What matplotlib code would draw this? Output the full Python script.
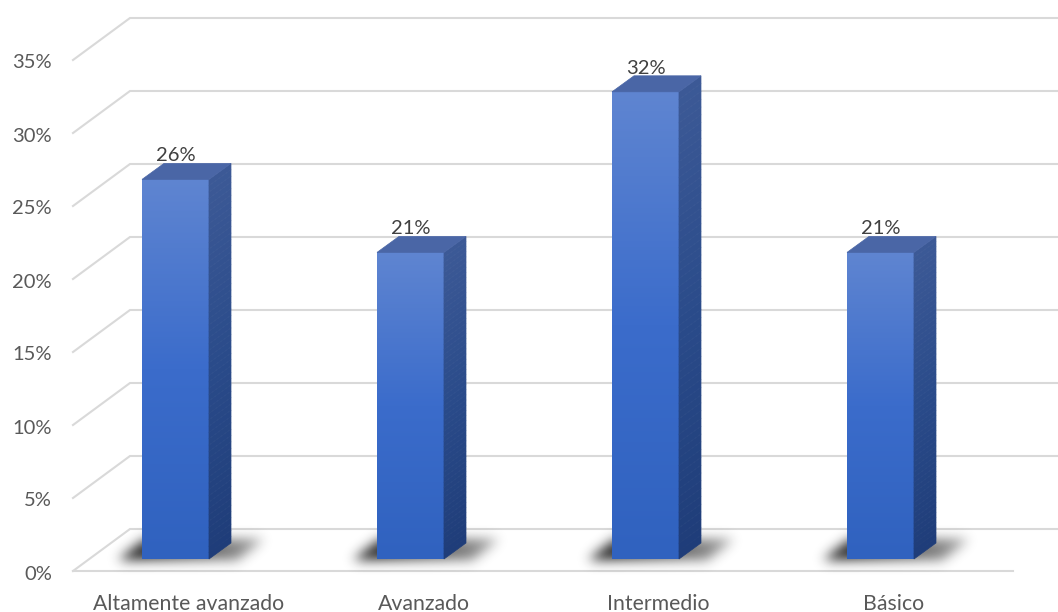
import numpy as np
import matplotlib
matplotlib.use("Agg")
import matplotlib.pyplot as plt
from matplotlib.patches import Polygon
from matplotlib.path import Path
from matplotlib.transforms import IdentityTransform
from matplotlib.colors import to_rgb

# ---- data -------------------------------------------------------------
categories = ["Altamente avanzado", "Avanzado", "Intermedio", "Básico"]
shares = [0.26, 0.21, 0.32, 0.21]
value_labels = ["26%", "21%", "32%", "21%"]
tick_values = [0.00, 0.05, 0.10, 0.15, 0.20, 0.25, 0.30, 0.35]
tick_labels = ["0%", "5%", "10%", "15%", "20%", "25%", "30%", "35%"]

# ---- figure / axes ----------------------------------------------------
W, H, DPI = 1058, 612, 100
plt.rcParams["font.family"] = ["Lato", "DejaVu Sans"]
fig = plt.figure(figsize=(W / DPI, H / DPI), dpi=DPI)
fig.patch.set_facecolor("white")
ax = fig.add_axes([73 / W, 41 / H, 940 / W, 511 / H])
ax.set_xlim(-0.5, len(categories) - 0.5)
ax.set_ylim(0, 0.35)
ax.set_autoscale_on(False)
ax.axis("off")

ID = IdentityTransform()
WALL = np.array([57.0, 42.0])    # depth of the floor / back wall (pixels)
FRONT = np.array([-15.0, 12.0])  # front plane of the bars
BACK = np.array([7.0, 28.0])     # back plane of the bars
BAR_W = 0.285

GRID = "#D9D9D9"
TXT = "#595959"


def pt(x, v, off=(0.0, 0.0)):
    """Data point -> display pixels, pushed back by an oblique depth offset."""
    return ax.transData.transform((x, v)) + np.asarray(off, dtype=float)


def ramp(c0, c1, c2, n):
    """Vertical colour ramp bottom -> middle -> top."""
    a, b, c = (np.array(to_rgb(k)) for k in (c0, c1, c2))
    t = np.linspace(0, 1, n)[:, None]
    lo = a + (b - a) * np.clip(t * 2, 0, 1)
    hi = b + (c - b) * np.clip(t * 2 - 1, 0, 1)
    return np.where(t < 0.5, lo, hi)


# ---- walls and gridlines ----------------------------------------------
x_lo, x_hi = ax.get_xlim()
for v in tick_values:
    f = pt(x_lo, v)
    b0 = pt(x_lo, v, WALL)
    b1 = pt(x_hi, v, WALL)
    ax.plot([f[0], b0[0], b1[0]], [f[1], b0[1], b1[1]], transform=ID,
            color=GRID, lw=1.5, clip_on=False, zorder=1,
            solid_joinstyle="miter")
f0, f1 = pt(x_lo, 0), pt(x_hi, 0)
ax.plot([f0[0], f1[0]], [f0[1], f1[1]], transform=ID, color=GRID, lw=1.5,
        clip_on=False, zorder=1)

for v, lab in zip(tick_values, tick_labels):
    p = pt(x_lo, v, (-21, -3))
    ax.text(p[0], p[1], lab, transform=ID, ha="right", va="center",
            fontsize=14.5, color=TXT)

for i, cat in enumerate(categories):
    p = pt(i, 0, (-2, -33))
    ax.text(p[0], p[1], cat, transform=ID, ha="center", va="center",
            fontsize=15.3, color=TXT)


# ---- soft floor shadow -------------------------------------------------
def floor_shadow(base, width_px):
    fl = base + np.array([-24.0, -1.0])
    fr = base + np.array([width_px + 28.0, -1.0])
    depth = np.array([27.0, 21.0])
    poly = np.array([fl, fr, fr + depth, fl + depth])
    m = 26
    x0, y0 = np.floor(poly.min(axis=0)) - m
    x1, y1 = np.ceil(poly.max(axis=0)) + m
    nx, ny = int(x1 - x0), int(y1 - y0)
    gx, gy = np.meshgrid(x0 + np.arange(nx) + 0.5, y0 + np.arange(ny) + 0.5)
    inside = Path(poly).contains_points(
        np.column_stack([gx.ravel(), gy.ravel()])).reshape(ny, nx)
    fade = np.clip(1.0 - (gx - fl[0]) / (fr[0] + depth[0] - fl[0]) * 0.6,
                   0.25, 1.0)
    mask = inside * fade
    sig = 6.0
    r = np.arange(-18, 19)
    k = np.exp(-r ** 2 / (2 * sig ** 2))
    k /= k.sum()
    mask = np.apply_along_axis(lambda row: np.convolve(row, k, "same"), 1, mask)
    mask = np.apply_along_axis(lambda col: np.convolve(col, k, "same"), 0, mask)
    img = np.zeros((ny, nx, 4))
    img[..., :3] = 0.1
    img[..., 3] = np.clip(mask * 1.05, 0, 1)
    ax.imshow(img, extent=(x0, x1, y0, y1), origin="lower", transform=ID,
              aspect="auto", interpolation="bilinear", zorder=2,
              clip_on=False)


# ---- bars -------------------------------------------------------------
front_ramp = ramp("#3062BF", "#3B6CCB", "#5F85D1", 256)[:, None, :]
side_cols = ramp("#1F3D79", "#2A4B8A", "#3C5996", 60)
TOP = "#4A66A6"

for i, (s, lab) in enumerate(zip(shares, value_labels)):
    xa, xb = i - BAR_W / 2, i + BAR_W / 2
    bl = pt(xa, 0, FRONT)
    tr = pt(xb, s, FRONT)
    floor_shadow(bl, tr[0] - bl[0])

    # front face with vertical gradient
    ax.imshow(front_ramp, extent=(bl[0], tr[0], bl[1], tr[1]), origin="lower",
              transform=ID, aspect="auto", interpolation="bilinear",
              zorder=3, clip_on=False)

    # right side face, built from thin shaded strips
    n = len(side_cols)
    for k in range(n):
        v0, v1 = s * k / n, s * (k + 1) / n
        quad = [pt(xb, v0, FRONT), pt(xb, v0, BACK),
                pt(xb, v1, BACK), pt(xb, v1, FRONT)]
        ax.add_patch(Polygon(quad, closed=True, transform=ID,
                             facecolor=side_cols[k], edgecolor=side_cols[k],
                             lw=0.5, zorder=3, clip_on=False))

    # top face
    top = [pt(xa, s, FRONT), pt(xb, s, FRONT), pt(xb, s, BACK), pt(xa, s, BACK)]
    ax.add_patch(Polygon(top, closed=True, transform=ID, facecolor=TOP,
                         edgecolor=TOP, lw=0.5, zorder=4, clip_on=False))

    # value label above the bar
    cx = pt(i, s, FRONT)[0]
    ty = pt(i, s, BACK)[1] + 2
    ax.text(cx, ty, lab, transform=ID, ha="center", va="baseline",
            fontsize=14.5, color="#404040", zorder=5)

fig.savefig("out.png", dpi=DPI, facecolor="white")
